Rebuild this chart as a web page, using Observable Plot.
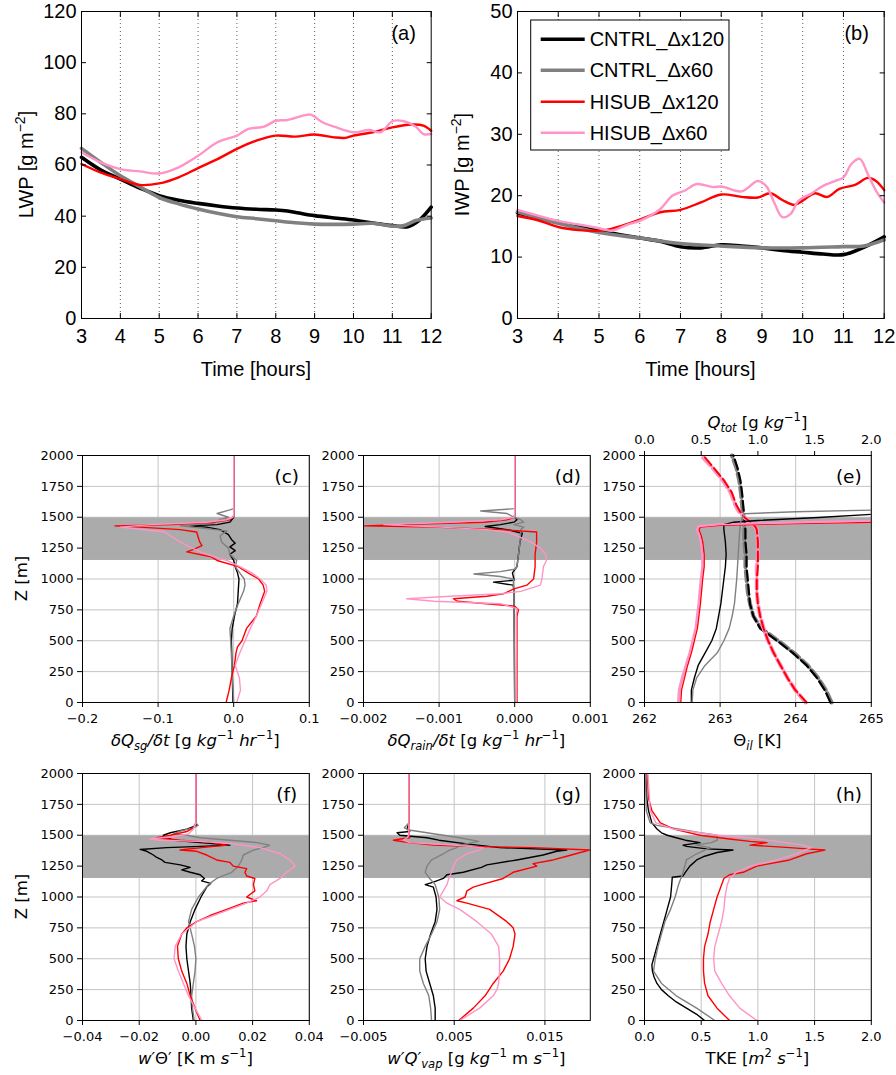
<!DOCTYPE html>
<html><head><meta charset="utf-8">
<script src="https://cdn.jsdelivr.net/npm/d3@7"></script>
<script src="https://cdn.jsdelivr.net/npm/@observablehq/plot@0.6"></script>
<style>
body{margin:0;background:#fff;}
#root{position:relative;width:896px;height:1075px;overflow:hidden;}
.panel{position:absolute;}
.panel svg{max-width:none;}
</style></head><body><div id="root"></div><script>
// ---------------- series names / colours ----------------
const seriesNames = ["CNTRL_Δx120", "CNTRL_Δx60", "HISUB_Δx120", "HISUB_Δx60"];
const seriesColors = ["#000000", "#808080", "#ff0000", "#ff94c6"];

// ---------------- (a) LWP [hours, g m-2] ----------------
const lwp_CNTRL_120 = [[3,63],[3.5,58],[4,54.5],[4.5,51],[5,48],[5.5,46.2],[6,45],[6.5,44],[7,43.2],[7.5,42.7],[8,42.4],[8.3,42],[8.6,41.2],[9,40.2],[9.5,39.3],[10,38.5],[10.5,37.3],[11,36.3],[11.4,35.9],[11.7,38.5],[12,43.5]];
const lwp_CNTRL_60 = [[3,66.5],[3.5,61],[4,55.8],[4.5,51.5],[5,47.3],[5.5,44.8],[6,42.8],[6.5,41.1],[7,39.8],[7.5,39],[8,38.2],[8.5,37.4],[9,36.9],[9.5,36.8],[10,36.9],[10.5,37.2],[11,36.1],[11.3,36.3],[11.6,38.3],[12,39.3]];
const lwp_HISUB_120 = [[3,60.4],[3.5,57],[4,54.5],[4.5,52.2],[5,52.8],[5.5,55.2],[6,58.8],[6.5,62.3],[7,66.3],[7.5,69.5],[8,71.5],[8.5,71.1],[9,71.9],[9.5,70.8],[9.8,70.6],[10,71.5],[10.5,72.8],[11,74.7],[11.5,75.8],[11.8,75.4],[12,73.4]];
const lwp_HISUB_60 = [[3,65],[3.5,61],[4,58.4],[4.5,57.5],[5,56.7],[5.5,59.1],[6,63.6],[6.5,68.9],[7,71.5],[7.3,74.1],[7.7,75],[8,77.3],[8.3,77.6],[8.7,79.3],[8.9,79.7],[9.2,76.7],[9.5,75],[10,72.8],[10.4,73.7],[10.7,72.8],[11,77.1],[11.3,77.1],[11.6,75],[11.8,72.1],[12,72.1]];

// ---------------- (b) IWP [hours, g m-2] ----------------
const iwp_CNTRL_120 = [[3,17.2],[4,15.7],[5,14.3],[6,13.1],[6.5,12.6],[7,11.7],[7.5,11.5],[8,12],[8.5,11.8],[9,11.5],[9.5,11.1],[10,10.8],[10.5,10.5],[11,10.4],[11.5,11.6],[12,13.3]];
const iwp_CNTRL_60 = [[3,17.4],[4,15.5],[5,14],[6,13.1],[7,12.2],[8,11.8],[9,11.5],[10,11.5],[11,11.7],[11.5,11.8],[12,12.8]];
const iwp_HISUB_120 = [[3,16.7],[3.5,16],[4,14.9],[4.5,14.4],[5,14.3],[5.3,14.6],[5.7,15.4],[6,16.1],[6.5,17.3],[7,17.7],[7.5,18.9],[8,20.2],[8.5,19.8],[8.9,19.7],[9.2,20.4],[9.5,19.3],[9.8,18.5],[10,19.2],[10.3,20.4],[10.6,19.8],[10.9,21.1],[11.3,21.8],[11.6,22.9],[11.8,22.4],[12,20.9]];
const iwp_HISUB_60 = [[3,17.7],[4,15.9],[4.5,15.3],[5,14.7],[5.3,14.3],[5.7,15.3],[6,15.9],[6.5,17.8],[6.8,20],[7.1,20.8],[7.4,21.9],[7.8,21.4],[8,21.5],[8.5,20.7],[8.9,22.4],[9.1,21.6],[9.3,18.9],[9.5,16.5],[9.7,17],[9.9,19.2],[10.2,20.3],[10.5,21.6],[10.8,22.4],[11,23],[11.2,25.2],[11.4,26],[11.6,23.5],[11.8,20.8],[12,18.9]];

// ---------------- tick values ----------------
const hourTicks = [3,4,5,6,7,8,9,10,11,12];
const hourGrid = [4,5,6,7,8,9,10,11];
const lwpTicks = [0,20,40,60,80,100,120];
const iwpTicks = [0,10,20,30,40,50];
const zTicks = [0,250,500,750,1000,1250,1500,1750,2000];
const inversionLayer = [[1150, 1495]];

// ---------------- (c) dQsg/dt [value, z] ----------------
const c_CNTRL_120 = [[-0.001,0],[-0.002,250],[-0.003,500],[-0.002,600],[0.001,700],[0.005,800],[0.006,900],[0.007,1000],[0.005,1050],[0.002,1100],[0,1150],[-0.005,1200],[0.002,1230],[-0.005,1260],[0.002,1290],[-0.003,1320],[-0.007,1360],[-0.018,1400],[-0.036,1420],[-0.058,1430],[-0.022,1440],[-0.005,1460],[0,1500],[0,2000]];
const c_CNTRL_60 = [[0,0],[-0.002,250],[-0.004,500],[-0.005,600],[0,700],[0.006,800],[0.013,900],[0.015,950],[0.014,1000],[0.008,1050],[0.002,1100],[0.004,1150],[-0.005,1200],[-0.007,1250],[-0.016,1300],[-0.018,1350],[-0.009,1390],[-0.04,1410],[-0.071,1430],[-0.027,1450],[-0.018,1480],[-0.007,1500],[-0.022,1530],[-0.005,1560],[0,1570],[0,2000]];
const c_HISUB_120 = [[-0.01,0],[-0.006,100],[-0.003,200],[0.001,300],[0.003,400],[0.005,450],[0.011,500],[0.017,600],[0.03,700],[0.035,800],[0.041,900],[0.039,950],[0.033,1000],[0.019,1050],[0.006,1100],[-0.022,1150],[-0.03,1180],[-0.062,1220],[-0.053,1240],[-0.042,1270],[-0.045,1300],[-0.049,1380],[-0.071,1400],[-0.124,1420],[-0.157,1430],[-0.08,1440],[-0.027,1460],[-0.005,1480],[0,1510],[0,2000]];
const c_HISUB_60 = [[0.004,0],[0.009,100],[0.0075,200],[0.002,300],[0.008,400],[0.015,500],[0.022,600],[0.03,700],[0.037,800],[0.044,900],[0.043,950],[0.035,1000],[0.024,1050],[0.008,1100],[-0.009,1150],[-0.036,1200],[-0.055,1250],[-0.071,1300],[-0.084,1350],[-0.091,1380],[-0.15,1420],[-0.11,1440],[-0.036,1460],[-0.009,1480],[-0.001,1500],[0,1520],[0,2000]];
const cTicks = [-0.2,-0.1,0,0.1];

// ---------------- (d) dQrain/dt ----------------
const d_CNTRL_120 = [[0,0],[-0.00001,900],[-0.00002,950],[-0.00028,975],[-0.00001,990],[-0.00001,1000],[-0.00003,1050],[0.00003,1100],[0.00005,1200],[0.00007,1300],[0.0001,1370],[-0.0001,1400],[-0.00039,1425],[-0.00019,1440],[-0.00001,1460],[0.00003,1480],[0,1500],[0,2000]];
const d_CNTRL_60 = [[0,0],[-0.00001,900],[-0.00002,1000],[-0.00019,1020],[-0.00054,1040],[-0.00019,1060],[0.00001,1080],[0.00003,1100],[0.00005,1200],[0.00007,1300],[0.00008,1400],[0.00012,1420],[-0.00001,1440],[0.00012,1460],[0.00008,1480],[-0.00001,1500],[-0.0001,1530],[-0.00045,1550],[0,1570],[0,2000]];
const d_HISUB_120 = [[0.00003,0],[0.00003,700],[0.00005,750],[0,780],[-0.00037,800],[-0.00076,820],[-0.00081,840],[-0.00037,860],[-0.00015,880],[-0.00008,900],[-0.00001,920],[0.00016,950],[0.00025,1000],[0.00026,1050],[0.00027,1100],[0.00027,1200],[0.00029,1300],[0.00029,1380],[-0.00019,1400],[-0.00107,1420],[-0.002,1430],[-0.0015,1440],[-0.00041,1460],[-0.0001,1480],[-0.00001,1500],[0,1520],[0,2000]];
const d_HISUB_60 = [[0.00002,0],[0.00002,700],[0.00003,760],[-0.00019,800],[-0.00107,820],[-0.00143,840],[-0.00085,860],[-0.00019,880],[0.00008,900],[0.00034,950],[0.00036,1000],[0.00038,1100],[0.00042,1150],[0.00041,1200],[0.00034,1250],[0.00021,1300],[0.00003,1350],[-0.0001,1380],[-0.00037,1400],[-0.00098,1420],[-0.00173,1440],[-0.00085,1460],[-0.00019,1480],[-0.00001,1500],[0,1520],[0,2000]];
const dTicks = [-0.002,-0.001,0,0.001];

// ---------------- (e) Theta_il [K] (solid) and Q_tot [g/kg] (dashed) ----------------
const e_CNTRL_120 = [[262.62,0],[262.62,100],[262.66,200],[262.71,300],[262.8,400],[262.89,500],[262.95,600],[262.98,700],[263.01,800],[263.05,1000],[263.07,1100],[263.08,1200],[263.07,1300],[263.05,1400],[263.05,1440],[263.18,1460],[263.5,1474],[264.3,1498],[265,1523]];
const e_CNTRL_60 = [[262.63,0],[262.64,100],[262.69,200],[262.8,300],[262.96,400],[263.05,500],[263.12,600],[263.16,700],[263.19,800],[263.22,1000],[263.24,1200],[263.26,1400],[263.27,1460],[263.3,1500],[263.32,1528],[264,1545],[265,1558]];
const e_HISUB_120 = [[262.48,0],[262.49,100],[262.53,200],[262.57,300],[262.62,400],[262.66,500],[262.7,600],[262.72,700],[262.74,800],[262.77,1000],[262.79,1100],[262.79,1200],[262.77,1300],[262.75,1350],[262.72,1400],[262.74,1420],[263,1435],[264,1448],[265,1458]];
const e_HISUB_60 = [[262.45,0],[262.46,100],[262.5,200],[262.55,300],[262.6,400],[262.64,500],[262.68,600],[262.7,700],[262.72,800],[262.75,1000],[262.77,1100],[262.77,1200],[262.75,1300],[262.73,1350],[262.7,1400],[262.72,1425],[263,1440],[264,1455],[265,1468]];
const q_CNTRL_120 = [[1.64,0],[1.59,100],[1.52,200],[1.43,300],[1.31,400],[1.17,500],[1.02,600],[0.96,700],[0.93,800],[0.92,900],[0.91,1000],[0.9,1100],[0.9,1200],[0.89,1300],[0.89,1400],[0.88,1500],[0.87,1600],[0.86,1700],[0.845,1800],[0.82,1900],[0.785,2000]];
const q_CNTRL_60 = [[1.65,0],[1.6,100],[1.53,200],[1.44,300],[1.32,400],[1.18,500],[1.03,600],[0.96,700],[0.93,800],[0.91,900],[0.9,1000],[0.89,1100],[0.89,1200],[0.88,1300],[0.88,1400],[0.87,1500],[0.86,1600],[0.85,1700],[0.835,1800],[0.81,1900],[0.77,2000]];
const q_HISUB_120 = [[1.43,0],[1.33,100],[1.26,200],[1.2,300],[1.14,400],[1.09,500],[1.05,600],[1.02,700],[1,800],[0.99,900],[0.99,1000],[1,1100],[1,1200],[1,1300],[0.99,1400],[0.98,1420],[0.95,1450],[0.88,1500],[0.84,1550],[0.81,1600],[0.77,1700],[0.7,1800],[0.61,1900],[0.52,2000]];
const q_HISUB_60 = [[1.42,0],[1.33,100],[1.26,200],[1.2,300],[1.14,400],[1.09,500],[1.05,600],[1.02,700],[1,800],[0.99,900],[0.99,1000],[0.99,1100],[1,1200],[1,1300],[0.99,1400],[0.97,1430],[0.93,1460],[0.88,1500],[0.83,1550],[0.8,1600],[0.76,1700],[0.69,1800],[0.6,1900],[0.5,2000]];
const eTicks = [262,263,264,265];
const qTicks = [0,0.5,1,1.5,2];

// ---------------- (f) w'Theta' ----------------
const f_CNTRL_120 = [[-0.0009,0],[-0.0015,100],[-0.0017,200],[-0.002,300],[-0.0026,400],[-0.0032,500],[-0.0035,600],[-0.0032,700],[-0.002,800],[-0.0003,900],[0.0018,1000],[0.0038,1080],[0.0052,1110],[0.002,1130],[0.003,1150],[0.0015,1180],[-0.002,1200],[-0.005,1220],[-0.002,1240],[-0.0055,1260],[-0.0109,1280],[-0.012,1300],[-0.0138,1320],[-0.015,1340],[-0.0173,1370],[-0.0197,1385],[-0.0103,1400],[0.0015,1410],[0.012,1420],[0.0015,1440],[-0.0079,1460],[-0.0103,1480],[-0.0115,1500],[-0.009,1520],[-0.0032,1550],[0.0003,1580],[0,1600],[0,2000]];
const f_CNTRL_60 = [[-0.0006,0],[-0.0012,100],[-0.0015,200],[-0.0009,300],[-0.0003,400],[0,500],[-0.0005,600],[-0.0015,700],[-0.0026,800],[-0.0015,900],[0.0009,1000],[0.0044,1100],[0.0073,1150],[0.0126,1200],[0.015,1250],[0.0162,1300],[0.0167,1340],[0.0203,1380],[0.0238,1400],[0.026,1420],[0.0215,1440],[0.012,1460],[0.0015,1480],[-0.0032,1500],[-0.008,1510],[-0.006,1530],[-0.0009,1560],[0.0008,1580],[0,1600],[0,2000]];
const f_HISUB_120 = [[0.0015,0],[-0.0003,100],[-0.002,200],[-0.0032,300],[-0.005,400],[-0.0062,500],[-0.0065,600],[-0.005,700],[-0.0032,750],[0.0003,800],[0.005,850],[0.0109,900],[0.0167,950],[0.0214,970],[0.0179,1000],[0.0208,1050],[0.0203,1100],[0.0208,1150],[0.0179,1170],[0.0173,1200],[0.0179,1230],[0.0132,1250],[0.012,1280],[0.0073,1300],[0.0038,1340],[0.0003,1370],[-0.0056,1380],[0.002,1400],[0.0109,1420],[0.0062,1440],[-0.0056,1460],[-0.0138,1480],[-0.009,1500],[-0.0032,1530],[-0.0009,1560],[0,1600],[0,2000]];
const f_HISUB_60 = [[0.0021,0],[-0.0003,100],[-0.0026,200],[-0.0044,300],[-0.0062,400],[-0.0077,500],[-0.0073,600],[-0.005,700],[0.0003,800],[0.0062,850],[0.012,900],[0.0179,950],[0.0226,1000],[0.025,1050],[0.0261,1100],[0.0297,1150],[0.032,1200],[0.035,1250],[0.0345,1270],[0.0332,1300],[0.0297,1350],[0.0226,1400],[0.0132,1430],[0.0015,1450],[-0.0126,1460],[-0.0162,1470],[-0.0079,1490],[-0.0026,1510],[-0.0009,1550],[0,1600],[0,2000]];
const fTicks = [-0.04,-0.02,0,0.02,0.04];

// ---------------- (g) w'Qvap' ----------------
const g_CNTRL_120 = [[0.0029,0],[0.0029,100],[0.0027,200],[0.0023,300],[0.0019,400],[0.0018,500],[0.002,600],[0.0024,700],[0.0029,800],[0.0031,900],[0.003,1000],[0.0027,1080],[0.0018,1100],[0.0027,1120],[0.0038,1150],[0.0042,1180],[0.006,1200],[0.008,1240],[0.0086,1260],[0.0119,1300],[0.0148,1340],[0.0163,1370],[0.0174,1380],[0.01,1400],[0.0064,1430],[0.0033,1460],[0.002,1480],[-0.001,1500],[-0.0013,1520],[0.0001,1530],[-0.0002,1550],[0,1600],[0,2000]];
const g_CNTRL_60 = [[0.0025,0],[0.0024,100],[0.0022,200],[0.0016,300],[0.0012,400],[0.0012,500],[0.0018,600],[0.0025,700],[0.0031,800],[0.0034,900],[0.0033,1000],[0.0029,1100],[0.0023,1150],[0.0018,1200],[0.002,1250],[0.0025,1300],[0.0038,1350],[0.0045,1380],[0.0053,1400],[0.0056,1420],[0.0077,1450],[0.0056,1480],[0.0038,1500],[0.002,1520],[0.0002,1540],[-0.0005,1560],[0,1600],[0,2000]];
const g_HISUB_120 = [[0.0055,0],[0.0071,100],[0.0084,200],[0.0093,300],[0.0104,400],[0.0111,500],[0.0115,600],[0.0117,700],[0.0115,750],[0.0108,800],[0.0089,900],[0.0064,950],[0.0053,970],[0.0062,1000],[0.0064,1050],[0.0071,1080],[0.008,1100],[0.0104,1150],[0.0115,1200],[0.0141,1250],[0.0137,1270],[0.0159,1300],[0.0174,1330],[0.0189,1360],[0.02,1380],[0.0137,1400],[0.0064,1410],[0.0027,1420],[0,1440],[-0.0017,1460],[-0.0009,1470],[0.0001,1480],[0,1500],[0,2000]];
const g_HISUB_60 = [[0.0056,0],[0.0078,100],[0.0093,200],[0.0097,250],[0.0099,300],[0.01,400],[0.01,500],[0.0099,600],[0.0091,700],[0.0075,800],[0.0056,900],[0.0042,950],[0.0034,1000],[0.0038,1050],[0.0042,1100],[0.0044,1150],[0.0047,1200],[0.0049,1250],[0.0053,1300],[0.0064,1350],[0.0078,1380],[0.0082,1400],[0.0049,1420],[0.0001,1440],[-0.0006,1460],[-0.0002,1480],[0,1500],[0,2000]];
const gTicks = [-0.005,0.005,0.015];

// ---------------- (h) TKE ----------------
const h_CNTRL_120 = [[0.53,0],[0.46,50],[0.37,100],[0.28,150],[0.21,200],[0.15,250],[0.11,300],[0.085,350],[0.07,400],[0.065,450],[0.08,500],[0.11,600],[0.14,700],[0.17,800],[0.2,900],[0.23,1000],[0.24,1100],[0.245,1160],[0.34,1170],[0.36,1200],[0.4,1250],[0.46,1300],[0.53,1330],[0.64,1360],[0.78,1380],[0.55,1390],[0.37,1410],[0.34,1420],[0.49,1440],[0.36,1460],[0.28,1480],[0.2,1500],[0.15,1520],[0.11,1550],[0.065,1600],[0.035,1700],[0.02,1800],[0.01,2000]];
const h_CNTRL_60 = [[0.62,0],[0.46,100],[0.28,200],[0.15,300],[0.08,400],[0.095,500],[0.12,600],[0.15,700],[0.18,800],[0.23,900],[0.27,1000],[0.3,1100],[0.34,1200],[0.37,1300],[0.46,1350],[0.58,1400],[0.45,1420],[0.59,1440],[0.64,1460],[0.64,1500],[0.49,1520],[0.31,1550],[0.11,1580],[0.05,1600],[0.015,1700],[0.01,2000]];
const h_HISUB_120 = [[0.75,0],[0.64,100],[0.56,200],[0.53,300],[0.52,400],[0.52,500],[0.53,600],[0.56,700],[0.58,800],[0.61,900],[0.64,1000],[0.68,1100],[0.7,1150],[0.75,1180],[0.87,1200],[0.99,1250],[1.28,1300],[1.43,1350],[1.59,1380],[1.43,1390],[1.28,1400],[0.93,1420],[1.08,1440],[0.93,1450],[0.75,1470],[0.49,1500],[0.26,1550],[0.14,1600],[0.065,1700],[0.035,1800],[0.025,2000]];
const h_HISUB_60 = [[0.99,0],[0.84,100],[0.75,200],[0.68,300],[0.62,400],[0.61,500],[0.62,600],[0.65,700],[0.68,800],[0.7,900],[0.71,1000],[0.73,1100],[0.75,1150],[0.81,1200],[0.93,1250],[1.17,1300],[1.34,1350],[1.47,1400],[1.4,1420],[1.17,1450],[0.93,1480],[0.64,1500],[0.26,1550],[0.1,1600],[0.05,1700],[0.03,2000]];
const hTicks = [0,0.5,1,1.5,2];

// =============== rendering ===============
const root = document.getElementById("root");
const TOPFONT = "'Liberation Sans', Arial, Helvetica, sans-serif";
const BOTFONT = "'DejaVu Sans', Verdana, sans-serif";
const GRID = "#c4c4c4";
const BAND = "#ababab";
const minus = s => String(s).replace("-", "\u2212");

function richText(svg, x, y, segs, o) {
  const size = o.size;
  const t = svg.append("text").attr("x", x).attr("y", y)
    .attr("font-family", o.family).attr("font-size", size)
    .attr("text-anchor", o.anchor || "middle").attr("fill", "#000");
  if (o.rotate) t.attr("transform", `rotate(${o.rotate},${x},${y})`);
  let shift = 0;
  for (const [str, st = ""] of segs) {
    const sp = t.append("tspan").text(str);
    let target = 0, fs = size;
    if (st.includes("^")) { target = -0.4 * size; fs = 0.7 * size; }
    if (st.includes("_")) { target = 0.22 * size; fs = 0.7 * size; }
    if (target !== shift) sp.attr("dy", (target - shift).toFixed(2));
    shift = target;
    if (fs !== size) sp.attr("font-size", fs.toFixed(2));
    if (st.includes("i")) sp.attr("font-style", "italic");
  }
  return t;
}

function place(svg, left, top) {
  const div = document.createElement("div");
  div.className = "panel";
  div.style.left = left + "px";
  div.style.top = top + "px";
  div.appendChild(svg);
  root.appendChild(div);
}

const topData = {
  a: [lwp_CNTRL_120, lwp_CNTRL_60, lwp_HISUB_120, lwp_HISUB_60],
  b: [iwp_CNTRL_120, iwp_CNTRL_60, iwp_HISUB_120, iwp_HISUB_60]
};
const topWidths = [3.6, 3.6, 2.4, 2.4];

function topPanel(p) {
  const ML = 75, MR = 15, MT = 11, MB = 75;
  const W = p.fw + ML + MR, H = p.fh + MT + MB;
  const lines = p.data.map((d, i) => Plot.line(d, {x: v => v[0], y: v => v[1], stroke: seriesColors[i], strokeWidth: topWidths[i], curve: "catmull-rom"}));
  const svg = Plot.plot({
    width: W, height: H, marginLeft: ML, marginRight: MR, marginTop: MT, marginBottom: MB,
    style: {fontFamily: TOPFONT, fontSize: "20px", background: "transparent", overflow: "visible", color: "#000"},
    x: {domain: [3, 12]},
    y: {domain: p.yDomain},
    marks: [
      Plot.ruleX(hourGrid, {stroke: "#333", strokeWidth: 0.8, strokeDasharray: "1,3"}),
      ...lines,
      Plot.frame({stroke: "#000", strokeWidth: 1}),
      Plot.axisX(hourTicks, {anchor: "bottom", tickSize: 0, tickPadding: 10, tickFormat: d => String(d), label: null}),
      Plot.axisX(hourTicks, {anchor: "bottom", tickSize: -5, fill: "none", label: null}),
      Plot.axisX(hourTicks, {anchor: "top", tickSize: -5, fill: "none", label: null}),
      Plot.axisY(p.yTicks, {anchor: "left", tickSize: 0, tickPadding: 5, tickFormat: d => String(d), label: null}),
      Plot.axisY(p.yTicks, {anchor: "left", tickSize: -5, fill: "none", label: null}),
      Plot.axisY(p.yTicks, {anchor: "right", tickSize: -5, fill: "none", label: null})
    ]
  });
  const s = d3.select(svg);
  const L = p.fl - ML, T = p.ft - MT;
  richText(s, p.fl + p.fw / 2 - L, 376 - T, [["Time [hours]"]], {size: 20, family: TOPFONT});
  richText(s, p.ylx - L, p.ft + p.fh / 2 - T, p.ylabel, {size: 20, family: TOPFONT, rotate: -90});
  richText(s, p.fl + p.fw - 27 - L, p.ft + 29 - T, [[p.tag]], {size: 20, family: TOPFONT});
  if (p.legend) {
    const g = s.append("g");
    const bx = 530.7 - L, by = 20 - T;
    g.append("rect").attr("x", bx).attr("y", by).attr("width", 198.3).attr("height", 130)
      .attr("fill", "#fff").attr("stroke", "#000").attr("stroke-width", 1);
    const rows = [39.3, 70.3, 101.7, 132.7];
    seriesNames.forEach((n, i) => {
      const yy = rows[i] - T;
      g.append("line").attr("x1", 540.7 - L).attr("x2", 584.7 - L).attr("y1", yy).attr("y2", yy)
        .attr("stroke", seriesColors[i]).attr("stroke-width", topWidths[i]);
      richText(g, 589.7 - L, yy + 7.2, [[n]], {size: 20, family: TOPFONT, anchor: "start"});
    });
  }
  place(svg, L, T);
}

topPanel({data: topData.a, fl: 81, ft: 11, fw: 349.7, fh: 307, yDomain: [0, 120], yTicks: lwpTicks,
  ylabel: [["LWP [g m"], ["\u22122", "^"], ["]"]], ylx: 33, tag: "(a)"});
topPanel({data: topData.b, fl: 517, ft: 11, fw: 366.7, fh: 307, yDomain: [0, 50], yTicks: iwpTicks,
  ylabel: [["IWP [g m"], ["\u22122", "^"], ["]"]], ylx: 469, tag: "(b)", legend: true});

// ---------- profile panels ----------
const profWidths = [1.4, 1.4, 1.4, 1.4];

function profile(p) {
  const ML = 80, MR = 25, MT = 50, MB = 60;
  const FW = 226.8, FH = 247;
  const W = FW + ML + MR, H = FH + MT + MB;
  const marks = [
    Plot.gridX(p.grid || p.ticks, {stroke: GRID, strokeOpacity: 1, strokeWidth: 1}),
    Plot.gridY(zTicks, {stroke: GRID, strokeOpacity: 1, strokeWidth: 1}),
    Plot.rect(inversionLayer, {y1: d => d[0], y2: d => d[1], fill: BAND})
  ];
  if (p.extra) marks.push(...p.extra);
  p.data.forEach((d, i) => marks.push(Plot.line(d, {x: v => v[0], y: v => v[1], stroke: seriesColors[i], strokeWidth: p.widths ? p.widths[i] : profWidths[i], clip: true})));
  marks.push(
    Plot.frame({stroke: "#000", strokeWidth: 1}),
    Plot.axisX(p.ticks, {anchor: "bottom", tickSize: 5, tickPadding: 6, tickFormat: p.fmt, label: null}),
    Plot.axisY(zTicks, {anchor: "left", tickSize: 5, tickPadding: 4, tickFormat: d => String(d), label: null})
  );
  if (p.top) marks.push(p.top);
  const svg = Plot.plot({
    width: W, height: H, marginLeft: ML, marginRight: MR, marginTop: MT, marginBottom: MB,
    style: {fontFamily: BOTFONT, fontSize: "13px", background: "transparent", overflow: "visible", color: "#000"},
    x: {domain: p.domain},
    y: {domain: [0, 2000]},
    marks
  });
  const s = d3.select(svg);
  const L = p.fl - ML, T = p.ft - MT;
  richText(s, p.fl + FW / 2 - L, p.ft + FH + 44 - T, p.xlabel, {size: 16.5, family: BOTFONT});
  if (p.zlabel) richText(s, p.fl - 54.5 - L, p.ft + FH / 2 - T, [["Z [m]"]], {size: 16.5, family: BOTFONT, rotate: -90});
  if (p.toplabel) richText(s, p.fl + FW / 2 - L, p.ft - 27 - T, p.toplabel, {size: 16.5, family: BOTFONT});
  richText(s, p.fl + FW - 22 - L, p.ft + 28.5 - T, [[p.tag]], {size: 18.5, family: BOTFONT});
  place(svg, L, T);
}

const unitsRate = [[" [g "], ["kg", "i"], ["\u22121", "^"], [" "], ["hr", "i"], ["\u22121", "^"], ["]"]];
const qToTheta = q => 262 + 1.5 * q;

profile({tag: "(c)", fl: 82.3, ft: 455, domain: [-0.2, 0.1], ticks: cTicks, fmt: d => minus(d.toFixed(1)),
  data: [c_CNTRL_120, c_CNTRL_60, c_HISUB_120, c_HISUB_60], zlabel: true,
  xlabel: [["\u03b4Q", "i"], ["sg", "i_"], ["/\u03b4t", "i"], ...unitsRate]});
profile({tag: "(d)", fl: 363.3, ft: 455, domain: [-0.002, 0.001], ticks: dTicks, fmt: d => minus(d.toFixed(3)),
  data: [d_CNTRL_120, d_CNTRL_60, d_HISUB_120, d_HISUB_60],
  xlabel: [["\u03b4Q", "i"], ["rain", "i_"], ["/\u03b4t", "i"], ...unitsRate]});
profile({tag: "(e)", fl: 644.3, ft: 455, domain: [262, 265], ticks: eTicks, fmt: d => String(d),
  data: [e_CNTRL_120, e_CNTRL_60, e_HISUB_120, e_HISUB_60], widths: [1.4, 1.4, 1.3, 1.3],
  extra: [
    Plot.line(q_CNTRL_60, {x: v => qToTheta(v[0]), y: v => v[1], stroke: seriesColors[1], strokeWidth: 4, strokeDasharray: "10,4"}),
    Plot.line(q_CNTRL_120, {x: v => qToTheta(v[0]), y: v => v[1], stroke: seriesColors[0], strokeWidth: 2.2, strokeDasharray: "10,4"}),
    Plot.line(q_HISUB_60, {x: v => qToTheta(v[0]), y: v => v[1], stroke: seriesColors[3], strokeWidth: 4, strokeDasharray: "10,4"}),
    Plot.line(q_HISUB_120, {x: v => qToTheta(v[0]), y: v => v[1], stroke: seriesColors[2], strokeWidth: 2, strokeDasharray: "10,4"}),
    Plot.line(e_HISUB_60, {x: v => v[0], y: v => v[1], stroke: seriesColors[3], strokeWidth: 3, clip: true})
  ],
  top: Plot.axisX(qTicks.map(qToTheta), {anchor: "top", tickSize: 5, tickPadding: 6, tickFormat: t => ((t - 262) / 1.5).toFixed(1), label: null}),
  toplabel: [["Q", "i"], ["tot", "i_"], [" [g "], ["kg", "i"], ["\u22121", "^"], ["]"]],
  xlabel: [["\u0398"], ["il", "i_"], [" [K]"]]});
profile({tag: "(f)", fl: 82.3, ft: 773.3, domain: [-0.04, 0.04], ticks: fTicks, fmt: d => minus(d.toFixed(2)),
  data: [f_CNTRL_120, f_CNTRL_60, f_HISUB_120, f_HISUB_60], zlabel: true,
  xlabel: [["w\u2032", "i"], ["\u0398\u2032"], [" [K m "], ["s", "i"], ["\u22121", "^"], ["]"]]});
profile({tag: "(g)", fl: 363.3, ft: 773.3, domain: [-0.005, 0.02], ticks: gTicks, fmt: d => minus(d.toFixed(3)),
  data: [g_CNTRL_120, g_CNTRL_60, g_HISUB_120, g_HISUB_60],
  xlabel: [["w\u2032Q\u2032", "i"], ["vap", "i_"], [" [g "], ["kg", "i"], ["\u22121", "^"], [" m "], ["s", "i"], ["\u22121", "^"], ["]"]]});
profile({tag: "(h)", fl: 644.3, ft: 773.3, domain: [0, 2], ticks: hTicks, fmt: d => d.toFixed(1),
  data: [h_CNTRL_120, h_CNTRL_60, h_HISUB_120, h_HISUB_60],
  xlabel: [["TKE ["], ["m", "i"], ["2", "^"], [" "], ["s", "i"], ["\u22121", "^"], ["]"]]});
</script></body></html>
